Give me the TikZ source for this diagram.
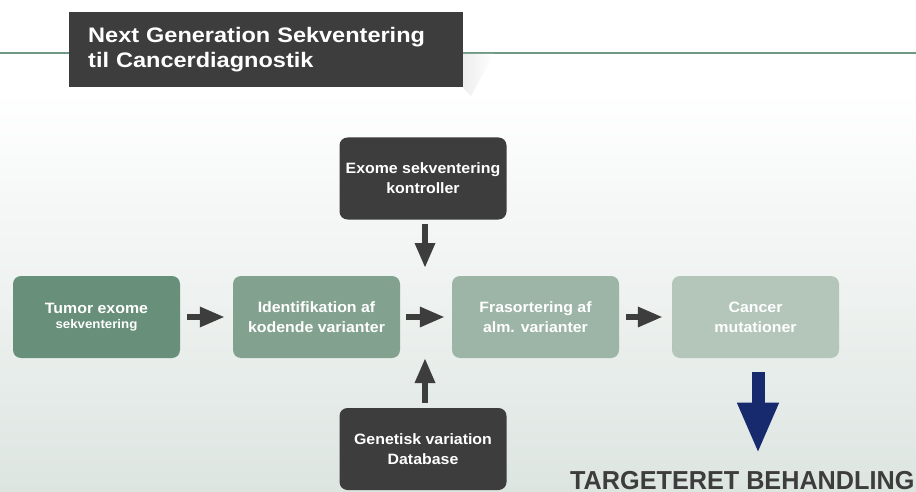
\documentclass[tikz,border=0pt]{standalone}
\usepackage{fontspec}
\setmainfont{Liberation Sans}
\newfontfamily\narrowfont[FakeStretch=0.97]{Liberation Sans}
\newfontfamily\boxfont[FakeStretch=1.06]{Liberation Sans}
\newfontfamily\widefont[FakeStretch=1.12]{Liberation Sans}
\usetikzlibrary{arrows.meta}

\definecolor{darkc}{HTML}{3D3D3D}
\definecolor{linec}{HTML}{6E9A84}
\definecolor{bgc}{HTML}{DDE5E1}
\definecolor{tumorc}{HTML}{678F79}
\definecolor{identc}{HTML}{82A28F}
\definecolor{frasc}{HTML}{9DB5A6}
\definecolor{cancerc}{HTML}{B3C6B9}
\definecolor{bluec}{HTML}{172A6D}

\tikzset{
  box/.style={rounded corners=8pt,minimum width=167pt,minimum height=82pt,
    inner sep=0pt,align=center,text=white,
    font=\boxfont\bfseries\fontsize{15}{20}\selectfont},
  arr/.style={-{Triangle[length=25pt,width=19pt]},line width=6pt,draw=darkc,
    shorten <=7pt,shorten >=8pt},
  bluearr/.style={-{Triangle[length=51pt,width=38pt]},line width=13pt,draw=bluec}
}

\begin{document}
\begin{tikzpicture}[x=1pt,y=-1pt]
  \useasboundingbox (0,0) rectangle (916,492);
  \fill[white] (0,0) rectangle (916,492);
  \shade[top color=white,bottom color=bgc] (0,90) rectangle (916,492);
  \draw[linec,line width=2pt] (0,52.7)--(916,52.7);
  \shade[left color=black!7,right color=white] (463,54)--(494,54)--(471,96)--(463,88)--cycle;
  % title
  \node[fill=darkc,anchor=north west,minimum width=394pt,minimum height=75pt,
    inner xsep=19pt,inner ysep=0pt,text width=356pt,align=left,text=white,
    font=\widefont\bfseries\fontsize{21}{25.5}\selectfont] (title) at (69,12)
    {Next Generation Sekventering\\til Cancerdiagnostik};
  % boxes
  \node[box,fill=tumorc] (tumor) at (96.5,317)
    {Tumor exome\\[-5pt]{\fontsize{12.5}{14}\selectfont sekventering}};
  \node[box,fill=identc] (ident) at (316.5,317) {Identifikation af\\kodende varianter};
  \node[box,fill=frasc] (fras) at (535.5,317) {Frasortering af\\alm. varianter};
  \node[box,fill=cancerc] (cancer) at (755.5,317) {Cancer\\mutationer};
  \node[box,fill=darkc] (exome) at (423,178.5) {Exome sekventering\\kontroller};
  \node[box,fill=darkc] (gendb) at (423,449) {Genetisk variation\\Database};
  \node[anchor=base west,inner sep=0pt,text=darkc,
    font=\narrowfont\bfseries\fontsize{26}{30}\selectfont] (target) at (570,489)
    {TARGETERET BEHANDLING};
  \coordinate (hub) at (425,317);
  % arrows
  \draw[arr] (tumor)--(ident);
  \draw[arr,shorten <=6pt,shorten >=7pt] (ident)--(fras);
  \draw[arr,shorten >=9pt] (fras)--(cancer);
  \draw[arr,shorten <=4pt,shorten >=49pt] (exome.south -| hub)--(hub);
  \draw[arr,shorten <=5pt,shorten >=41pt] (gendb.north -| hub)--(hub);
  \draw[bluearr,shorten <=14pt,shorten >=17pt] ([xshift=2.5pt]cancer.south)--([xshift=2.5pt]cancer.south |- target.north);
\end{tikzpicture}
\end{document}
